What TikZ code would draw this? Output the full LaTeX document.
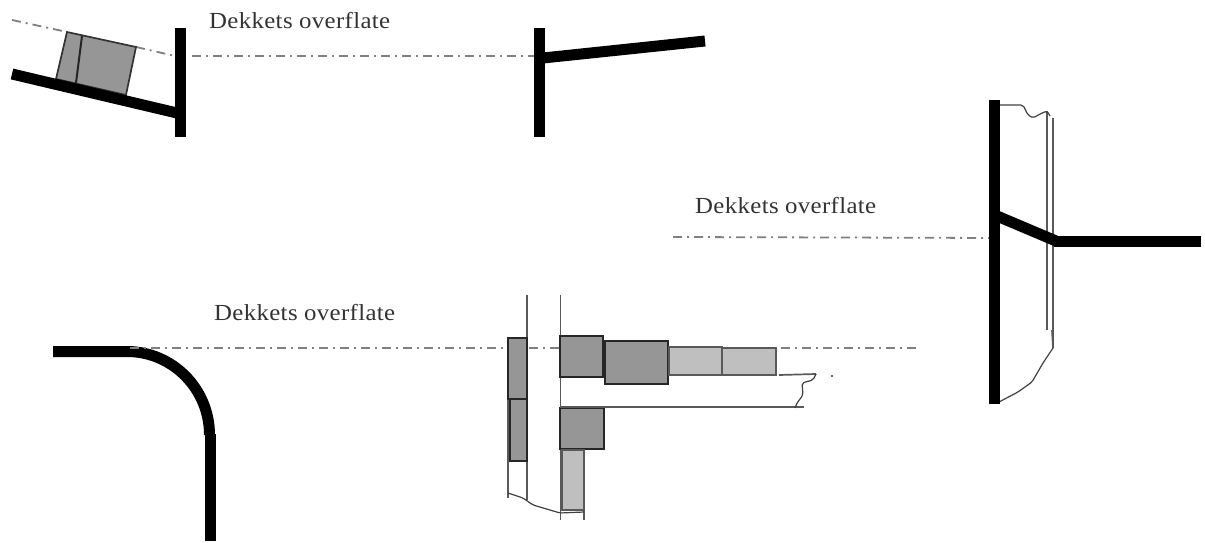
\documentclass[tikz,border=0pt]{standalone}
\usepackage{fontspec}
\setmainfont{Liberation Serif}
\newfontfamily\lblA[LetterSpace=1.5,FakeStretch=1.08]{Liberation Serif}
\definecolor{darkfill}{HTML}{969696}
\definecolor{lightfill}{HTML}{BFBFBF}
\definecolor{txt}{HTML}{333333}
\tikzset{
  heavy/.style={line width=11pt,black},
  axisline/.style={line width=1.8pt,draw=black!50,dash pattern=on 9pt off 5pt on 2pt off 5pt},
  thin outline/.style={line width=1.7pt,draw=black!65},
  wiggle/.style={line width=1.2pt,draw=black!75,rounded corners=2pt},
  darkbox/.style={fill=darkfill,draw=black!85,line width=2pt},
  lightbox/.style={fill=lightfill,draw=black!65,line width=1.7pt},
  lbl/.style={text=txt,anchor=west,inner sep=0pt,font={\lblA\fontsize{23}{25}\selectfont}}
}
\begin{document}
\begin{tikzpicture}[x=1pt,y=-1pt]
\useasboundingbox (0,0) rectangle (1205,543);
% top left
\draw[axisline] (12,20) -- (67,32);
\draw[axisline] (136,47) -- (175,56);
\draw[axisline] (192,56) -- (535,56);
\draw[fill=darkfill,draw=black!80,line width=1.7pt] (67,32) -- (136,47) -- (126,95) -- (56,79) -- cycle;
\draw[black!85,line width=2pt] (82,36) -- (76,83);
\draw[heavy] (12,74) -- (177,113);
\draw[heavy] (180.5,28) -- (180.5,137);
\node[lbl] (t1) at (209,21) {Dekkets overflate};
% top middle
\draw[heavy] (539,28) -- (539,137);
\draw[heavy] (543,58) -- (705,41);
% right
\draw[axisline] (673,237) -- (1000,238);
\draw[thin outline] (1047,111) -- (1047,330);
\draw[thin outline] (1053,118) -- (1053,348) -- (1052,330);
\draw[wiggle] (999,105) -- (1023,105) -- (1028,115) -- (1033,118) -- (1042,113) -- (1047,111) -- (1050,116);
\draw[wiggle] (1053,348) -- (1043,363) -- (1032,382) -- (1018,392) -- (999,402);
\draw[heavy] (994,100) -- (994,404);
\draw[heavy] (997,216) -- (1056,241);
\draw[heavy] (1054,241) -- (1201,241);
\node[lbl] (t2) at (695,206) {Dekkets overflate};
% bottom left
\draw[heavy] (53,351.5) -- (127,351.5) arc[start angle=-90,end angle=0,x radius=82.5,y radius=83.5];
\draw[heavy] (210,434) -- (210,541);
\node[lbl] (t3) at (214,313) {Dekkets overflate};
% axis bottom
\draw[axisline] (130,348) -- (916,348);
% bottom middle
\draw[thin outline] (527,295) -- (527,500);
\draw[thin outline] (508,338) -- (508,498);
\draw[thin outline] (560.5,295) -- (560.5,520);
\draw[thin outline] (584,450) -- (584,520);
\draw[darkbox] (508,338) rectangle (527,399);
\draw[darkbox] (509.5,399) rectangle (527,461);
\draw[darkbox] (560,336) rectangle (603,377);
\draw[darkbox] (605,341) rectangle (668,384);
\draw[lightbox] (669,347) rectangle (722,375);
\draw[lightbox] (722.5,348) rectangle (776,375);
\draw[darkbox] (560,408) rectangle (604,449);
\draw[lightbox] (562,450) rectangle (584,510);
\draw[thin outline] (779,375) -- (816,374);
\draw[thin outline] (560,407) -- (804,407);
\draw[wiggle] (816,374) -- (813,380) -- (802,383) -- (803,395) -- (797,403) -- (795,408);
\draw[wiggle] (508,493) -- (523,498) -- (533,505) -- (560,513) -- (584,512);
\fill[black!60] (830.5,374.5) rectangle (833,376.5);
\end{tikzpicture}
\end{document}
